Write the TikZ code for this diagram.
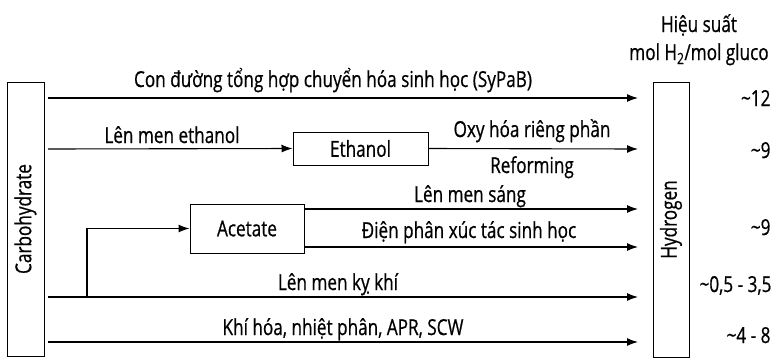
\documentclass[tikz,border=0pt]{standalone}
\usepackage{fontspec}
\setmainfont{Open Sans}[FakeStretch=0.78, FakeBold=0.6]
\usetikzlibrary{arrows.meta}
\tikzset{
  box/.style={draw, line width=1pt, inner sep=0pt},
  lbl/.style={anchor=base, inner sep=0pt},
  val/.style={anchor=base east, inner sep=0pt},
}
\begin{document}
\begin{tikzpicture}[>={Latex[length=11pt,width=8pt]}, x=1pt, y=-1pt, line width=1.1pt,
    font=\fontsize{22}{26}\selectfont]
\useasboundingbox (0,0) rectangle (773,357);
% boxes
\node[box, rotate=90, minimum width=274, minimum height=37] (carb) at (25.5,219) {Carbohydrate};
\node[box, rotate=90, minimum width=275, minimum height=36] (hyd) at (671,219.5) {Hydrogen};
\node[box, minimum width=135, minimum height=33] (eth) at (360.5,148.5) {Ethanol};
\node[box, minimum width=114, minimum height=49] (ace) at (247,228.5) {Acetate};
% ends of the routes
\foreach \n/\y in {syp/98, eth/149, dark/297, gas/342}
{
    \coordinate (s\n) at (48,\y);
    \coordinate (e\n) at (638,\y);
}
\coordinate (elight) at (638,209);
\coordinate (eelec) at (638,247);
\coordinate (br) at (87,297);
% routes
\draw[->] (ssyp) -- (esyp);
\draw[->] (seth) -- (eth.west);
\draw[->] (eth.east) -- (eeth);
\draw[->] (br) |- (ace.west);
\draw[->] (ace.east |- elight) -- (elight);
\draw[->] (ace.east |- eelec) -- (eelec);
\draw[->] (sdark) -- (edark);
\draw[->] (sgas) -- (egas);
% labels
\node[lbl] (lsyp) at (333,87) {Con đường tổng hợp chuyển hóa sinh học (SyPaB)};
\node[lbl] (lferm) at (172,143) {Lên men ethanol};
\node[lbl] (loxy) at (532,137) {Oxy hóa riêng phần};
\node[lbl] (lref) at (532,173) {Reforming};
\node[lbl] (llight) at (470,202) {Lên men sáng};
\node[lbl] (lelec) at (469,238) {Điện phân xúc tác sinh học};
\node[lbl] (ldark) at (338,290) {Lên men kỵ khí};
\node[lbl] (lgas) at (343,335) {Khí hóa, nhiệt phân, APR, SCW};
% yields
\node[lbl] (head1) at (699,32) {Hiệu suất};
\node[lbl] (head2) at (699,60) {mol H\textsubscript{2}/mol gluco};
\node[val] (v1) at (771,106) {\textasciitilde12};
\node[val] (v2) at (771,158) {\textasciitilde9};
\node[val] (v3) at (771,235) {\textasciitilde9};
\node[val] (v4) at (772,292) {\textasciitilde0,5 - 3,5};
\node[val] (v5) at (771,343) {\textasciitilde4 - 8};
\end{tikzpicture}
\end{document}
